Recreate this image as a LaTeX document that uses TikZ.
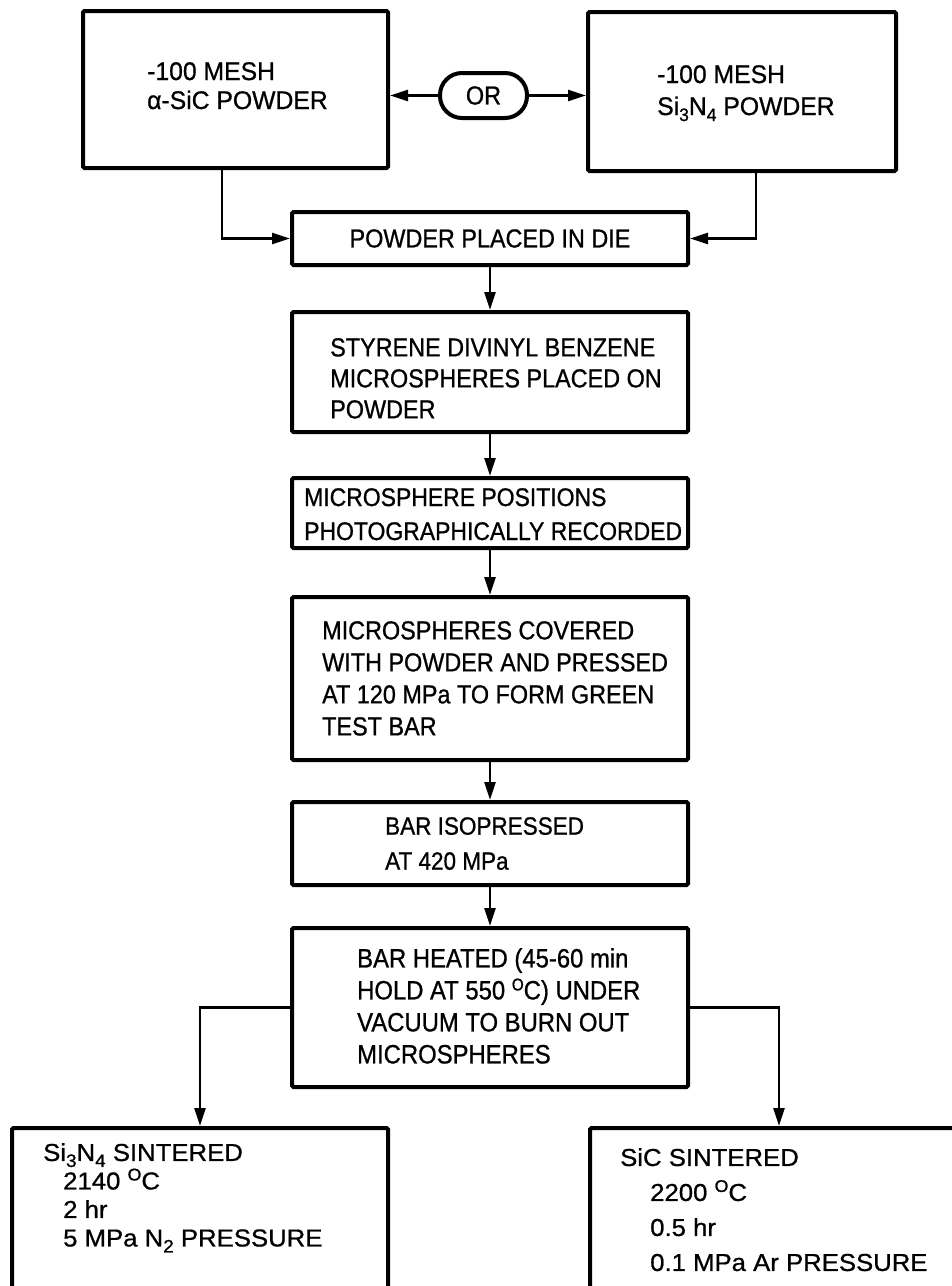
\documentclass[tikz,border=0pt]{standalone}
\usepackage{fontspec}
\setmainfont{Liberation Sans}[FakeStretch=0.9,FakeBold=0.8]
\newfontfamily\midw{Liberation Sans}[FakeStretch=0.97,FakeBold=0.8]
\newfontfamily\widw{Liberation Sans}[FakeStretch=1.05,FakeBold=0.8]
\usetikzlibrary{arrows.meta}
\newcommand\sbs[1]{\raisebox{-6pt}{\fontsize{18}{18}\selectfont #1}}
\newcommand\dg{\raisebox{9pt}{\fontsize{17}{17}\selectfont O}}
\setlength{\lineskiplimit}{-30pt}
\begin{document}
\begin{tikzpicture}[x=1pt,y=-1pt,
  box/.style={draw, line width=4pt, rounded corners=1.5pt, inner sep=0pt},
  lbl/.style={anchor=north west, inner sep=0pt, align=left},
  conn/.style={line width=2.5pt, -{Triangle[length=18pt,width=11pt]}},
  font=\fontsize{26}{31}\selectfont]
\useasboundingbox (0,0) rectangle (952,1286);
\fill[white] (0,0) rectangle (952,1286);
\clip (0,0) rectangle (952,1286);

% boxes
\node[box, minimum width=305pt, minimum height=157pt] (sic) at (235.5,89.5) {};
\node[box, minimum width=308pt, minimum height=159pt] (sin) at (742,91.5) {};
\node[box, rounded corners=22pt, minimum width=87pt, minimum height=45pt] (or) at (483.5,95.5) {OR};
\node[box, minimum width=396pt, minimum height=53pt] (die) at (490,238.5) {POWDER PLACED IN DIE};
\node[box, minimum width=396pt, minimum height=120pt] (sty) at (490,372) {};
\node[box, minimum width=396pt, minimum height=70pt] (pos) at (490,513) {};
\node[box, minimum width=396pt, minimum height=163pt] (cov) at (490,678.5) {};
\node[box, minimum width=396pt, minimum height=83pt] (iso) at (490,843.5) {};
\node[box, minimum width=396pt, minimum height=159pt] (heat) at (490,1007.5) {};
\node[box, minimum width=376pt, minimum height=300pt] (s3) at (200,1278) {};
\node[box, minimum width=378pt, minimum height=300pt] (sc) at (779,1278) {};

% texts
\node[lbl, font={\midw\fontsize{25.5}{29}\selectfont}] (sict) at (147,62) {-100 MESH\\α-SiC POWDER};
\node[lbl, font={\midw\fontsize{25.5}{32}\selectfont}] (sint) at (657,65) {-100 MESH\\Si\sbs{3}N\sbs{4} POWDER};
\node[lbl, font={\fontsize{26}{31}\selectfont}] (styt) at (330,338) {STYRENE DIVINYL BENZENE\\MICROSPHERES PLACED ON\\POWDER};
\node[lbl, font={\fontsize{25.5}{34}\selectfont}] (post) at (304,488) {MICROSPHERE POSITIONS\\PHOTOGRAPHICALLY RECORDED};
\node[lbl, font={\fontsize{26}{32}\selectfont}] (covt) at (322,621) {MICROSPHERES COVERED\\WITH POWDER AND PRESSED\\AT 120 MPa TO FORM GREEN\\TEST BAR};
\node[lbl, font={\fontsize{25}{35}\selectfont}] (isot) at (385,817) {BAR ISOPRESSED\\AT 420 MPa};
\node[lbl, font={\fontsize{26.5}{32}\selectfont}] (heatt) at (357,948) {BAR HEATED (45-60 min\\HOLD AT 550 \dg C) UNDER\\VACUUM TO BURN OUT\\MICROSPHERES};
\node[lbl, font={\widw\fontsize{24.5}{28.5}\selectfont}] (s3t) at (43,1143) {Si\sbs{3}N\sbs{4} SINTERED\\\hspace*{20pt}2140 \dg C\\\hspace*{20pt}2 hr\\\hspace*{20pt}5 MPa N\sbs{2} PRESSURE};
\node[lbl, font={\widw\fontsize{24.5}{35}\selectfont}] (sct) at (620,1148) {SiC SINTERED\\\hspace*{30pt}2200 \dg C\\\hspace*{30pt}0.5 hr\\\hspace*{30pt}0.1 MPa Ar PRESSURE};

% connectors
\draw[conn] (or.west) -- (sic.east |- or.west);
\draw[conn] (or.east) -- (sin.west |- or.east);
\draw[conn] ([xshift=-13.5pt]sic.south) |- (die.west);
\draw[conn] ([xshift=14pt]sin.south) |- (die.east);
\draw[conn] (die.south) -- (sty.north);
\draw[conn] (sty.south) -- (pos.north);
\draw[conn] (pos.south) -- (cov.north);
\draw[conn] (cov.south) -- (iso.north);
\draw[conn] (iso.south) -- (heat.north);
\draw[conn] (heat.west) -| (s3.north);
\draw[conn] (heat.east) -| (sc.north);
\end{tikzpicture}
\end{document}
